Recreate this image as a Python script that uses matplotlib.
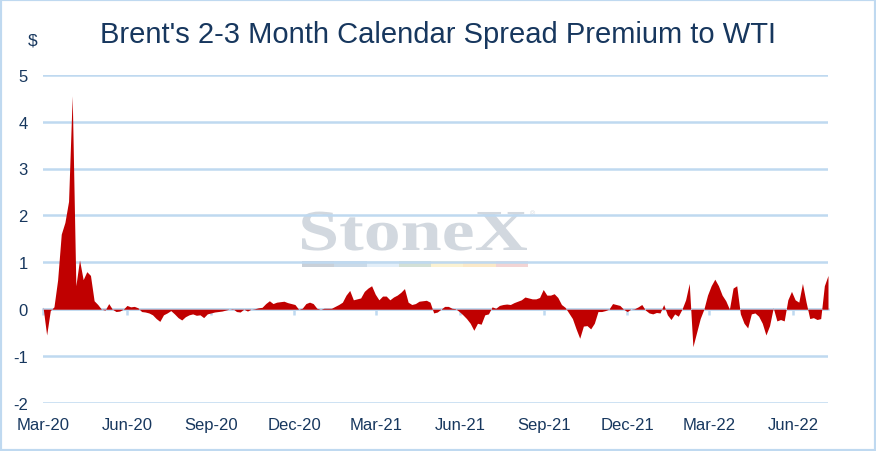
import numpy as np
import pandas as pd
import matplotlib
matplotlib.use('Agg')
import matplotlib.pyplot as plt
import matplotlib.dates as mdates
from matplotlib.patches import Rectangle, PathPatch
from matplotlib.textpath import TextPath
from matplotlib.font_manager import FontProperties
from matplotlib.transforms import Affine2D

# --- data (one value every 4 days) ---
start_date = '2020-03-01'
step = '4D'
spread = [
    0.05, -0.55, -0.03, 0.05, 0.62, 1.60, 1.85, 2.30, 4.55, 0.50,
    1.05, 0.63, 0.80, 0.72, 0.18, 0.10, 0.00, -0.02, 0.12, 0.00,
    -0.05, -0.04, 0.00, 0.08, 0.05, 0.06, 0.03, -0.05, -0.06, -0.08,
    -0.12, -0.20, -0.26, -0.12, -0.08, -0.03, -0.10, -0.18, -0.23, -0.16,
    -0.12, -0.10, -0.13, -0.12, -0.18, -0.10, -0.08, -0.06, -0.05, -0.04,
    -0.02, 0.00, 0.01, -0.05, -0.06, 0.00, -0.04, 0.00, 0.01, 0.03,
    0.04, 0.12, 0.18, 0.12, 0.15, 0.16, 0.17, 0.14, 0.12, 0.10,
    0.00, 0.02, 0.12, 0.15, 0.12, 0.02, 0.00, 0.02, 0.02, 0.02,
    0.06, 0.10, 0.15, 0.30, 0.40, 0.20, 0.22, 0.24, 0.38, 0.45,
    0.50, 0.32, 0.20, 0.28, 0.28, 0.20, 0.26, 0.30, 0.36, 0.44,
    0.15, 0.10, 0.12, 0.17, 0.18, 0.19, 0.15, -0.08, -0.06, 0.00,
    0.06, 0.06, 0.02, 0.01, -0.05, -0.12, -0.20, -0.30, -0.45, -0.30,
    -0.32, -0.12, -0.10, 0.05, 0.02, 0.08, 0.10, 0.11, 0.10, 0.14,
    0.17, 0.20, 0.26, 0.24, 0.22, 0.22, 0.25, 0.42, 0.30, 0.30,
    0.33, 0.25, 0.10, 0.04, -0.08, -0.20, -0.42, -0.62, -0.36, -0.35,
    -0.42, -0.30, -0.05, -0.05, -0.03, 0.00, 0.12, 0.10, 0.08, 0.00,
    -0.05, 0.00, 0.01, 0.05, 0.10, -0.02, -0.08, -0.10, -0.07, -0.08,
    0.10, -0.12, -0.22, -0.10, -0.15, 0.00, 0.20, 0.55, -0.80, -0.50,
    -0.20, 0.00, 0.30, 0.50, 0.64, 0.50, 0.30, 0.18, 0.00, 0.45,
    0.50, -0.10, -0.30, -0.40, -0.10, -0.08, -0.15, -0.30, -0.55, -0.35,
    0.03, -0.25, -0.22, -0.25, 0.20, 0.38, 0.20, 0.15, 0.55, 0.15,
    -0.20, -0.18, -0.22, -0.20, 0.50, 0.72,
]
tick_dates = ['2020-03-01', '2020-06-01', '2020-09-01', '2020-12-01',
              '2021-03-01', '2021-06-01', '2021-09-01', '2021-12-01',
              '2022-03-01', '2022-06-01']
y_ticks = [-2, -1, 0, 1, 2, 3, 4, 5]

title = "Brent's 2-3 Month Calendar Spread Premium to WTI"

# --- colours ---
navy = '#17375E'
grid_c = '#BFD9F0'
red = '#C00000'
logo_c = '#D2D8DF'
bar_colors = ['#C9D0D8', '#CADAE8', '#E2EEF8', '#D3E0D6', '#FBF2D2', '#FBE9C8', '#F2D4D4']

plt.rcParams['font.family'] = ['Liberation Sans', 'DejaVu Sans']
plt.rcParams['axes.unicode_minus'] = False

W, H = 876, 452
fig = plt.figure(figsize=(W / 100, H / 100), dpi=100, facecolor='white')
ax = fig.add_axes([43 / W, 1 - 404 / H, (828 - 43) / W, (404 - 75.7) / H])
ax.set_facecolor('none')

dates = pd.date_range(start_date, periods=len(spread), freq=step)
x = mdates.date2num(dates)
ticks = mdates.date2num(pd.to_datetime(tick_dates))

ax.fill_between(x, spread, 0, color=red, lw=0, zorder=2)

ax.set_xlim(x[0], x[-1])
ax.set_ylim(-2, 5)
ax.set_yticks(y_ticks)
ax.set_yticklabels([str(v) for v in y_ticks])
ax.set_xticks(ticks)
ax.set_xticklabels(pd.to_datetime(tick_dates).strftime('%b-%y'))
ax.yaxis.grid(True, color=grid_c, lw=1.8)
ax.set_axisbelow(True)
for s in ax.spines.values():
    s.set_visible(False)
ax.tick_params(axis='y', length=0, pad=11, labelsize=12, labelcolor=navy)
ax.tick_params(axis='x', length=0, pad=10, labelsize=12, labelcolor=navy)

# zero line with tick marks
sec = ax.secondary_xaxis(2 / 7)
sec.set_xticks(ticks)
sec.set_xticklabels([])
sec.spines['bottom'].set_color(grid_c)
sec.spines['bottom'].set_linewidth(1.8)
sec.tick_params(axis='x', direction='out', length=4, width=1.8, color=grid_c)

# title and unit
fig.text(0.5, 1 - 43 / H, title, ha='center', va='baseline', fontsize=21, color=navy)
fig.text(33 / W, 1 - 41 / H, '$', ha='center', va='center', fontsize=12.5, color=navy)

# StoneX watermark
fp = FontProperties(family='Liberation Serif', weight='bold')
tp = TextPath((0, 0), 'StoneX', size=60, prop=fp)
bb = tp.get_extents()
sx = (527 - 302) / bb.width
sy = 39 / bb.height
to_fig = Affine2D().scale(1 / W, 1 / H) + fig.transFigure
trans = Affine2D().translate(-bb.x0, 0).scale(sx, sy).translate(302, H - 251) + to_fig
fig.patches.append(PathPatch(tp, transform=trans, facecolor=logo_c, edgecolor='none', zorder=-1))
fig.text(533 / W, 1 - 215 / H, '\u00ae', fontsize=5, color=logo_c, ha='center', va='center', zorder=-1)
seg = (528 - 302) / len(bar_colors)
for i, c in enumerate(bar_colors):
    fig.patches.append(Rectangle(((302 + i * seg) / W, 1 - 268 / H), seg / W, 6 / H,
                                 transform=fig.transFigure, facecolor=c, edgecolor='none', zorder=-1))

# border
fig.patches.append(Rectangle((0, 0), 1, 1, transform=fig.transFigure, fill=False,
                             edgecolor=grid_c, lw=3, zorder=5))

fig.savefig('out.png', dpi=100, facecolor='white')
